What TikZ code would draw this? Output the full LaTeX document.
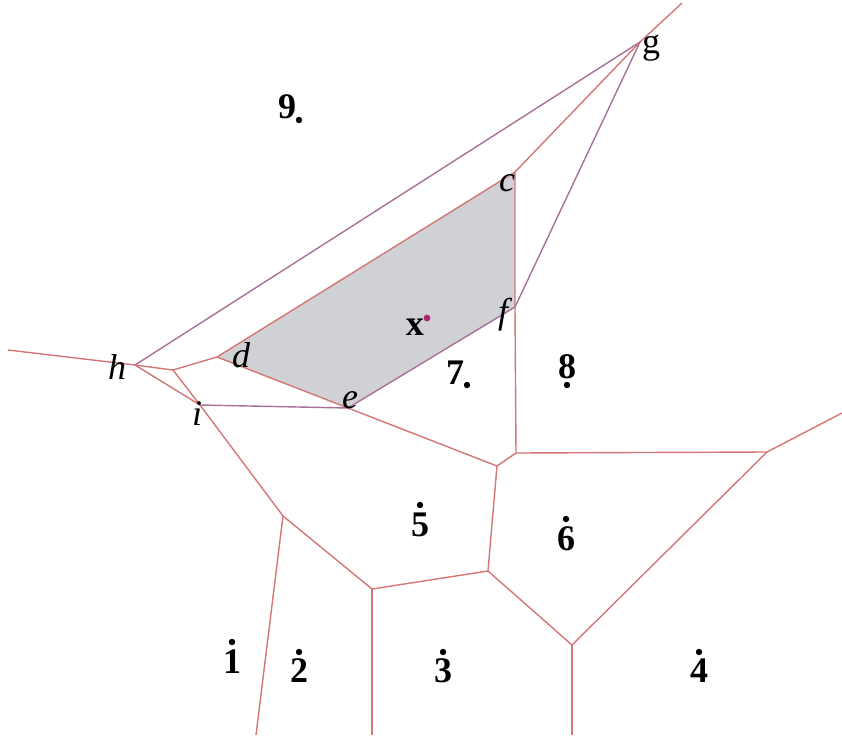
\documentclass[tikz,border=0pt]{standalone}
\usepackage{fontspec}
\setmainfont{Liberation Serif}
\usetikzlibrary{positioning}

\definecolor{edgered}{RGB}{212,118,118}
\definecolor{edgeplum}{RGB}{168,112,152}
\definecolor{cellgray}{RGB}{207,209,212}
\definecolor{xdot}{RGB}{168,38,112}

\tikzset{
  edge/.style={draw=edgered, line width=0.7pt},
  plum/.style={draw=edgeplum, line width=0.7pt},
  site/.style={circle, fill=black, inner sep=0pt, minimum size=3.2pt},
  num/.style={font=\fontsize{18}{20}\selectfont\bfseries, inner sep=0pt},
  vlab/.style={font=\fontsize{18}{20}\selectfont\itshape, inner sep=0pt},
}

\begin{document}
\begin{tikzpicture}[x=0.5pt, y=-0.5pt]
  \useasboundingbox (0,0) rectangle (842,735);

  % vertices of the diagram
  \coordinate (g) at (640,42);
  \coordinate (c) at (515,172);
  \coordinate (f) at (515,307);
  \coordinate (d) at (217,357);
  \coordinate (e) at (348,408);
  \coordinate (h) at (135,365);
  \coordinate (k) at (173,370);
  \coordinate (i) at (200,405);
  \coordinate (j1) at (516,453);
  \coordinate (j2) at (497,466);
  \coordinate (j3) at (283,516);
  \coordinate (j4) at (488,571);
  \coordinate (j5) at (372,589);
  \coordinate (j6) at (572,645);
  \coordinate (j7) at (767,452);
  % ends of the unbounded edges
  \coordinate (endw) at (8,350);
  \coordinate (endne) at (682,3);
  \coordinate (ende) at (842,413);
  \coordinate (ends1) at (256,735);
  \coordinate (ends2) at (372,735);
  \coordinate (ends3) at (572,735);

  % shaded cell of x
  \fill[cellgray] (d) -- (c) -- (f) -- (e) -- cycle;

  % edges
  \draw[edge] (endw) -- (h);
  \draw[plum] (h) -- (g);
  \draw[edge] (g) -- (endne);
  \draw[edge] (g) -- (c);
  \draw[plum] (g) -- (f);
  \draw[edge] (c) -- (d);
  \draw[edge] (c) -- (f) -- (j1);
  \draw[plum] (f) -- (e);
  \draw[edge] (d) -- (e) -- (j2);
  \draw[edge] (h) -- (k) -- (d);
  \draw[edge] (k) -- (i);
  \draw[edge] (h) -- (i) -- (j3);
  \draw[plum] (i) -- (e);
  \draw[edge] (j2) -- (j1) -- (j7) -- (ende);
  \draw[edge] (j2) -- (j4) -- (j5) -- (j3);
  \draw[edge] (j4) -- (j6) -- (j7);
  \draw[edge] (j3) -- (ends1);
  \draw[edge] (j5) -- (ends2);
  \draw[edge] (j6) -- (ends3);

  % vertex labels
  \node[vlab] (lc) at ([shift={(-8,11)}]c) {c};
  \node[vlab] (lf) at ([shift={(-12,8)}]f) {f};
  \node[vlab] (ld) at ([shift={(24,-2)}]d) {d};
  \node[vlab] (le) at ([shift={(2,-8)}]e) {e};
  \node[vlab] (lh) at ([shift={(-18,2)}]h) {h};
  \node[vlab] (li) at ([shift={(-3,9)}]i) {i};
  \node[font=\fontsize{18}{20}\selectfont, inner sep=0pt] (lg) at ([shift={(11,6)}]g) {g};

  % sites
  \node[site] (p1) at (232,642) {};
  \node[site] (p2) at (299,652) {};
  \node[site] (p3) at (443,652) {};
  \node[site] (p4) at (699,652) {};
  \node[site] (p5) at (420,505) {};
  \node[site] (p6) at (566,519) {};
  \node[site] (p7) at (467,385) {};
  \node[site] (p8) at (567,385) {};
  \node[site] (p9) at (299,120) {};
  \node[circle, fill=xdot, inner sep=0pt, minimum size=3.4pt] (px) at (427,318) {};

  \node[num, below=2pt of p1] (l1) {1};
  \node[num, below=1.5pt of p2] (l2) {2};
  \node[num, below=1.5pt of p3] (l3) {3};
  \node[num, below=1.5pt of p4] (l4) {4};
  \node[num, below=1.8pt of p5] (l5) {5};
  \node[num, below=2pt of p6] (l6) {6};
  \node[num, above left=-1pt and 0pt of p7] (l7) {7};
  \node[num, above=1pt of p8] (l8) {8};
  \node[num, above left=-1pt and 0pt of p9] (l9) {9};
  \node[num, below left=-1pt and 0pt of px] (lx) {x};
\end{tikzpicture}
\end{document}
